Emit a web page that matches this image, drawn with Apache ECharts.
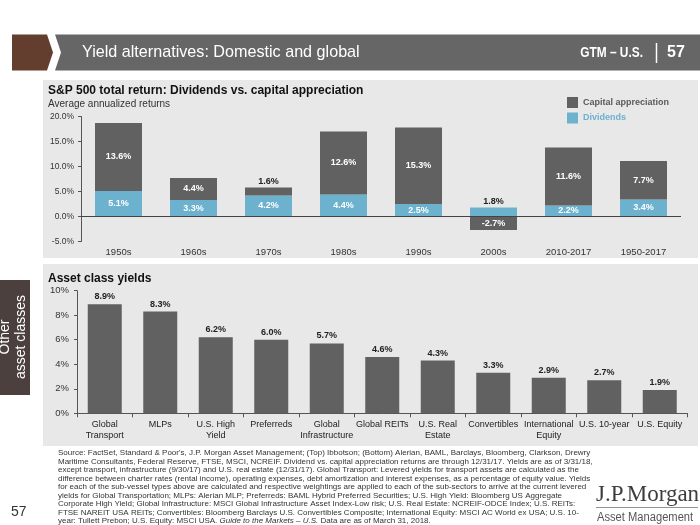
<!DOCTYPE html>
<html>
<head>
<meta charset="utf-8">
<script src="https://cdn.jsdelivr.net/npm/echarts@6/dist/echarts.min.js"></script>
<style>
html,body{margin:0;padding:0;background:#fff;}
#c{width:700px;height:525px;}
</style>
</head>
<body>
<div id="c"></div>
<script>
// ---- data ----
const decades = ['1950s','1960s','1970s','1980s','1990s','2000s','2010-2017','1950-2017'];
const dividends = [5.1,3.3,4.2,4.4,2.5,1.8,2.2,3.4];
const capital = [13.6,4.4,1.6,12.6,15.3,-2.7,11.6,7.7];
const topAxis = {min:-5, max:20, interval:5};

const assets = ['Global\nTransport','MLPs','U.S. High\nYield','Preferreds','Global\nInfrastructure','Global REITs','U.S. Real\nEstate','Convertibles','International\nEquity','U.S. 10-year','U.S. Equity'];
const yields = [8.9,8.3,6.2,6.0,5.7,4.6,4.3,3.3,2.9,2.7,1.9];
const bottomAxis = {min:0, max:10, interval:2};

const footLines = [
"Source: FactSet, Standard & Poor's, J.P. Morgan Asset Management; (Top) Ibbotson; (Bottom) Alerian, BAML, Barclays, Bloomberg, Clarkson, Drewry",
"Maritime Consultants, Federal Reserve, FTSE, MSCI, NCREIF. Dividend vs. capital appreciation returns are through 12/31/17. Yields are as of 3/31/18,",
"except transport, infrastructure (9/30/17) and U.S. real estate (12/31/17). Global Transport: Levered yields for transport assets are calculated as the",
"difference between charter rates (rental income), operating expenses, debt amortization and interest expenses, as a percentage of equity value. Yields",
"for each of the sub-vessel types above are calculated and respective weightings are applied to each of the sub-sectors to arrive at the current levered",
"yields for Global Transportation; MLPs: Alerian MLP; Preferreds: BAML Hybrid Preferred Securities; U.S. High Yield: Bloomberg US Aggregate",
"Corporate High Yield; Global Infrastructure: MSCI Global Infrastructure Asset Index-Low risk; U.S. Real Estate: NCREIF-ODCE Index; U.S. REITs:",
"FTSE NAREIT USA REITs; Convertibles: Bloomberg Barclays U.S. Convertibles Composite; International Equity: MSCI AC World ex USA; U.S. 10-",
"year: Tullett Prebon; U.S. Equity: MSCI USA. {i|Guide to the Markets – U.S.} Data are as of March 31, 2018."
];

// ---- styling ----
const FF = "'Liberation Sans', Arial, sans-serif";
const GRAY = '#616161';
const CYAN = '#6cb1ce';
const PANEL = '#e8e8e8';

function pct(v){ return v.toFixed(1) + '%'; }
function stackItems(arr){
  return arr.map(v => {
    const small = v > 0 && v < 2;
    return {
      value: v,
      label: small ? {position:'top', color:'#222', distance:1.5} : {}
    };
  });
}

const footGraphics = footLines.map((t,i) => ({
  type:'text', z: 5,
  style:{
    text:t, x:58, y:453 + i*8.5,
    font:"8px " + FF, fill:'#333', align:'left', verticalAlign:'middle',
    rich:{ i:{ fontStyle:'italic', fontSize:8, fontFamily:FF, fill:'#333' } }
  }
}));

const chart = echarts.init(document.getElementById('c'), null, {renderer:'canvas'});
chart.setOption({
  animation:false,
  backgroundColor:'#ffffff',
  textStyle:{fontFamily:FF},
  grid:[
    {left:81, right:19, top:116.5, bottom:283.5},
    {left:77, right:12.5, top:290.7, bottom:111.7}
  ],
  legend:{
    orient:'vertical', left:567, top:97, padding:0,
    itemWidth:11, itemHeight:11, itemGap:4.5,
    icon:'rect',
    textStyle:{fontSize:9, fontWeight:'bold', fontFamily:FF},
    data:[
      {name:'Capital appreciation', textStyle:{color:'#5a5a5a'}},
      {name:'Dividends', textStyle:{color:CYAN}}
    ]
  },
  xAxis:[
    {type:'category', gridIndex:0, data:decades,
     axisLine:{show:false}, axisTick:{show:false},
     axisLabel:{margin:5.5, fontSize:9.5, color:'#333', fontFamily:FF}},
    {type:'category', gridIndex:1, data:assets,
     axisLine:{show:true, lineStyle:{color:'#555', width:1}},
     axisTick:{show:true, length:4, lineStyle:{color:'#555'}},
     axisLabel:{interval:0, margin:6, fontSize:9, lineHeight:10.5, color:'#222', fontFamily:FF}}
  ],
  yAxis:[
    {type:'value', gridIndex:0, min:topAxis.min, max:topAxis.max, interval:topAxis.interval,
     axisLine:{show:true, lineStyle:{color:'#555'}},
     axisTick:{show:true, length:3, lineStyle:{color:'#555'}},
     splitLine:{show:false},
     axisLabel:{formatter:v => v.toFixed(1)+'%', fontSize:8.5, margin:7, color:'#333', fontFamily:FF}},
    {type:'value', gridIndex:1, min:bottomAxis.min, max:bottomAxis.max, interval:bottomAxis.interval,
     axisLine:{show:true, lineStyle:{color:'#555'}},
     axisTick:{show:true, length:3, lineStyle:{color:'#555'}},
     splitLine:{show:false},
     axisLabel:{formatter:v => v+'%', fontSize:9.5, margin:8, color:'#333', fontFamily:FF}}
  ],
  series:[
    {name:'Dividends', type:'bar', stack:'total', xAxisIndex:0, yAxisIndex:0,
     barWidth:47, itemStyle:{color:CYAN},
     label:{show:true, position:'inside', color:'#fff', fontWeight:'bold', fontSize:9, fontFamily:FF,
            formatter:p => pct(p.value)},
     data:stackItems(dividends),
     markLine:{silent:true, symbol:['none','none'], label:{show:false},
               lineStyle:{color:'#444', width:1, type:'solid'}, data:[{yAxis:0}]}
    },
    {name:'Capital appreciation', type:'bar', stack:'total', xAxisIndex:0, yAxisIndex:0,
     barWidth:47, itemStyle:{color:GRAY},
     label:{show:true, position:'inside', color:'#fff', fontWeight:'bold', fontSize:9, fontFamily:FF,
            formatter:p => pct(p.value)},
     data:stackItems(capital)
    },
    {name:'Yield', type:'bar', xAxisIndex:1, yAxisIndex:1,
     barWidth:34, itemStyle:{color:GRAY},
     label:{show:true, position:'top', distance:3, color:'#222', fontWeight:'bold', fontSize:9, fontFamily:FF,
            formatter:p => pct(p.value)},
     data:yields
    }
  ],
  graphic:[
    // panels
    {type:'rect', z:-1, shape:{x:43, y:80, width:655, height:178}, style:{fill:PANEL}},
    {type:'rect', z:-1, shape:{x:43, y:264, width:655, height:182}, style:{fill:PANEL}},
    // header
    {type:'polygon', shape:{points:[[12,34.5],[47,34.5],[53,52.5],[47,70.5],[12,70.5]]}, style:{fill:'#633d2d'}},
    {type:'polygon', shape:{points:[[55,34.5],[700,34.5],[700,70.5],[55,70.5],[61,52.5]]}, style:{fill:'#666666'}},
    {type:'text', z:5, x:82, y:52.5, scaleX:0.95, style:{text:'Yield alternatives: Domestic and global', x:0, y:0,
      font:"17px " + FF, fill:'#fff', align:'left', verticalAlign:'middle'}},
    {type:'text', z:5, x:643, y:53, scaleX:0.85, style:{text:'GTM – U.S.', x:0, y:0,
      font:"bold 14px " + FF, fill:'#fff', align:'right', verticalAlign:'middle'}},
    {type:'line', z:5, shape:{x1:656.5, y1:43, x2:656.5, y2:63}, style:{stroke:'#fff', lineWidth:1.5}},
    {type:'text', z:5, x:667, y:52.5, style:{text:'57', x:0, y:0,
      font:"bold 16px " + FF, fill:'#fff', align:'left', verticalAlign:'middle'}},
    // chart titles
    {type:'text', z:5, style:{text:'S&P 500 total return: Dividends vs. capital appreciation', x:48, y:90.7,
      font:"bold 12px " + FF, fill:'#111', align:'left', verticalAlign:'middle'}},
    {type:'text', z:5, style:{text:'Average annualized returns', x:48, y:104.3,
      font:"10px " + FF, fill:'#333', align:'left', verticalAlign:'middle'}},
    {type:'text', z:5, style:{text:'Asset class yields', x:48, y:279,
      font:"bold 12px " + FF, fill:'#111', align:'left', verticalAlign:'middle'}},
    // left tab
    {type:'rect', shape:{x:0, y:280, width:30, height:115}, style:{fill:'#4b403d'}},
    {type:'text', z:5, x:13, y:337, rotation:Math.PI/2, style:{text:'Other\nasset classes', x:0, y:0,
      font:"14px " + FF, fill:'#fff', align:'center', verticalAlign:'middle', lineHeight:16}},
    // page number
    {type:'text', z:5, style:{text:'57', x:11, y:512, font:"14px " + FF, fill:'#333', align:'left', verticalAlign:'middle'}},
    // logo
    {type:'text', z:5, x:596, y:495, style:{text:'J.P.Morgan', x:0, y:0,
      font:"23px 'Liberation Serif', 'DejaVu Serif', serif", fill:'#3d3d3d', align:'left', verticalAlign:'middle'}},
    {type:'line', z:5, shape:{x1:596, y1:507.5, x2:698, y2:507.5}, style:{stroke:'#777', lineWidth:0.8}},
    {type:'text', z:5, x:597, y:518, scaleX:0.93, style:{text:'Asset Management', x:0, y:0,
      font:"12px " + FF, fill:'#555', align:'left', verticalAlign:'middle'}}
  ].concat(footGraphics)
});
</script>
</body>
</html>
